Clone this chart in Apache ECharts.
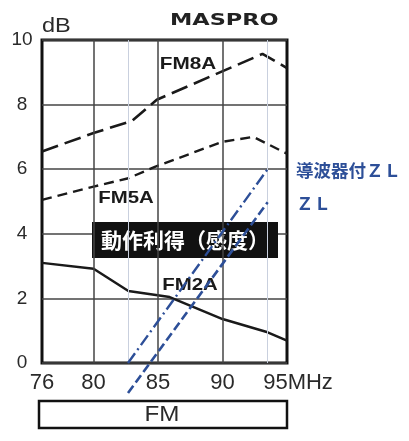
<!DOCTYPE html>
<html><head><meta charset="utf-8">
<script src="https://cdn.jsdelivr.net/npm/echarts@6/dist/echarts.min.js"></script>
<style>html,body{margin:0;padding:0;background:#fff}#c{width:409px;height:441px}</style>
</head><body><div id="c"></div>
<script>
// ---- data ----
const xTickValues = [76, 80, 85, 90, 95];
const yTickLabels = [0, 2, 4, 6, 8, 10];
const gridFreqs = [80, 85, 90];
const guideFreqs = [82.67, 93.5];
const fm8aFreq = [76, 80, 83.0, 84.9, 93.1, 95];
const fm8aGain = [6.55, 7.12, 7.5, 8.15, 9.57, 9.13];
const fm5aFreq = [76, 80, 82.7, 84.8, 90, 92.4, 95];
const fm5aGain = [5.05, 5.46, 5.72, 6.08, 6.85, 7.0, 6.48];
const fm2aFreq = [76, 80, 82.7, 85.9, 90, 93.5, 95];
const fm2aGain = [3.1, 2.92, 2.23, 2.04, 1.36, 0.95, 0.69];
const zlDirFreq = [82.67, 93.53];
const zlDirGain = [0, 6.02];
const zlFreq = [82.67, 93.5];
const zlGain = [-0.93, 4.98];
const seriesNames = ['FM8A', 'FM5A', 'FM2A', '導波器付ＺＬ', 'ＺＬ'];

const zip = (a, b) => a.map((v, i) => [v, b[i]]);
const axisFont = 'Liberation Sans, Arial, sans-serif';
const blue = '#2d4f98';
// main plot: 0..10 dB over 323 px; overlay grid shares the same scale but reaches down to -1 dB
const pxPerDb = 32.3;

const chart = echarts.init(document.getElementById('c'), null, {renderer: 'canvas'});
const option = {
  animation: false,
  grid: [
    {left: 42, right: 122, top: 40, bottom: 78, show: true, borderColor: '#111', borderWidth: 3, backgroundColor: 'transparent'},
    {left: 42, right: 122, top: 40, height: 11 * pxPerDb, show: false}
  ],
  xAxis: [{
    type: 'value', min: 76, max: 95, gridIndex: 0,
    axisLine: {show: false}, axisTick: {show: false}, splitLine: {show: false},
    axisLabel: {
      customValues: xTickValues, margin: 9,
      fontFamily: axisFont, fontSize: 22, color: '#2a2a2a',
      formatter: v => v === 95 ? '{m|95MHz}' : String(v),
      rich: {m: {fontFamily: axisFont, fontSize: 22, color: '#2a2a2a', padding: [0, 0, 0, 22]}}
    }
  }, {
    type: 'value', min: 76, max: 95, gridIndex: 1, show: false
  }],
  yAxis: [{
    type: 'value', min: 0, max: 10, interval: 2, gridIndex: 0,
    axisLine: {show: false}, axisTick: {show: false},
    splitLine: {show: true, lineStyle: {color: '#444', width: 1.5}},
    axisLabel: {margin: 20, align: 'center', fontFamily: axisFont, fontSize: 19, color: '#2a2a2a',
      formatter: v => yTickLabels.includes(v) ? String(v) : ''}
  }, {
    type: 'value', min: -1, max: 10, gridIndex: 1, show: false
  }],
  series: [
    {name: seriesNames[0], type: 'line', data: zip(fm8aFreq, fm8aGain), symbol: 'none', z: 4,
     lineStyle: {color: '#1a1a1a', width: 2.6, type: [17, 7]},
     markLine: {silent: true, symbol: 'none', label: {show: false},
       data: gridFreqs.map(f => ({xAxis: f, lineStyle: {color: '#444', width: 1.5, type: 'solid'}}))
         .concat(guideFreqs.map(f => ({xAxis: f, lineStyle: {color: '#c9d0de', width: 1, type: 'solid'}})))}},
    {name: seriesNames[1], type: 'line', data: zip(fm5aFreq, fm5aGain), symbol: 'none', z: 4,
     lineStyle: {color: '#1a1a1a', width: 2.4, type: [10, 6]}},
    {name: seriesNames[2], type: 'line', data: zip(fm2aFreq, fm2aGain), symbol: 'none', z: 4,
     lineStyle: {color: '#1a1a1a', width: 2.5, type: 'solid'}},
    {name: seriesNames[3], type: 'line', data: zip(zlDirFreq, zlDirGain), symbol: 'none', z: 10,
     lineStyle: {color: blue, width: 2.4, type: [12, 4, 2, 4]}},
    {name: seriesNames[4], type: 'line', xAxisIndex: 1, yAxisIndex: 1, data: zip(zlFreq, zlGain), symbol: 'none', z: 10,
     lineStyle: {color: blue, width: 2.6, type: [9, 4]}}
  ],
  graphic: [
    {type: 'text', x: 42, y: 26, z: 5, scaleX: 1.12, style: {text: 'dB', font: '21px ' + axisFont, fill: '#2a2a2a', textVerticalAlign: 'middle'}},
    {type: 'text', x: 170, y: 21, z: 5, scaleX: 1.4, style: {text: 'MASPRO', font: '900 16px DejaVu Sans', fill: '#222', textVerticalAlign: 'middle'}},
    {type: 'text', x: 188, y: 64, z: 5, scaleX: 1.22, style: {text: seriesNames[0], font: 'bold 17px ' + axisFont, fill: '#1a1a1a', textAlign: 'center', textVerticalAlign: 'middle'}},
    {type: 'text', x: 126, y: 198, z: 5, scaleX: 1.2, style: {text: seriesNames[1], font: 'bold 17px ' + axisFont, fill: '#1a1a1a', textAlign: 'center', textVerticalAlign: 'middle'}},
    {type: 'text', x: 190, y: 285, z: 5, scaleX: 1.2, style: {text: seriesNames[2], font: 'bold 17px ' + axisFont, fill: '#1a1a1a', textAlign: 'center', textVerticalAlign: 'middle'}},
    {type: 'rect', z: 3, shape: {x: 92, y: 222, width: 186, height: 36}, style: {fill: '#111'}},
    {type: 'text', x: 185, y: 240, z: 3, style: {text: '動作利得（感度）', font: 'bold 21px "Noto Sans CJK JP"', fill: '#fff', textAlign: 'center', textVerticalAlign: 'middle'}},
    {type: 'text', x: 296, y: 170, z: 5, style: {text: seriesNames[3], font: 'bold 17.5px "Noto Sans CJK JP"', fill: blue, textVerticalAlign: 'middle'}},
    {type: 'text', x: 296, y: 203, z: 5, style: {text: seriesNames[4], font: 'bold 17.5px "Noto Sans CJK JP"', fill: blue, textVerticalAlign: 'middle'}},
    {type: 'rect', z: 3, shape: {x: 39, y: 401, width: 248, height: 27}, style: {fill: '#fff', stroke: '#111', lineWidth: 2.5}},
    {type: 'text', x: 162, y: 415, z: 4, scaleX: 1.1, style: {text: 'FM', font: '22px ' + axisFont, fill: '#2a2a2a', textAlign: 'center', textVerticalAlign: 'middle'}}
  ]
};
chart.setOption(option);
</script></body></html>
